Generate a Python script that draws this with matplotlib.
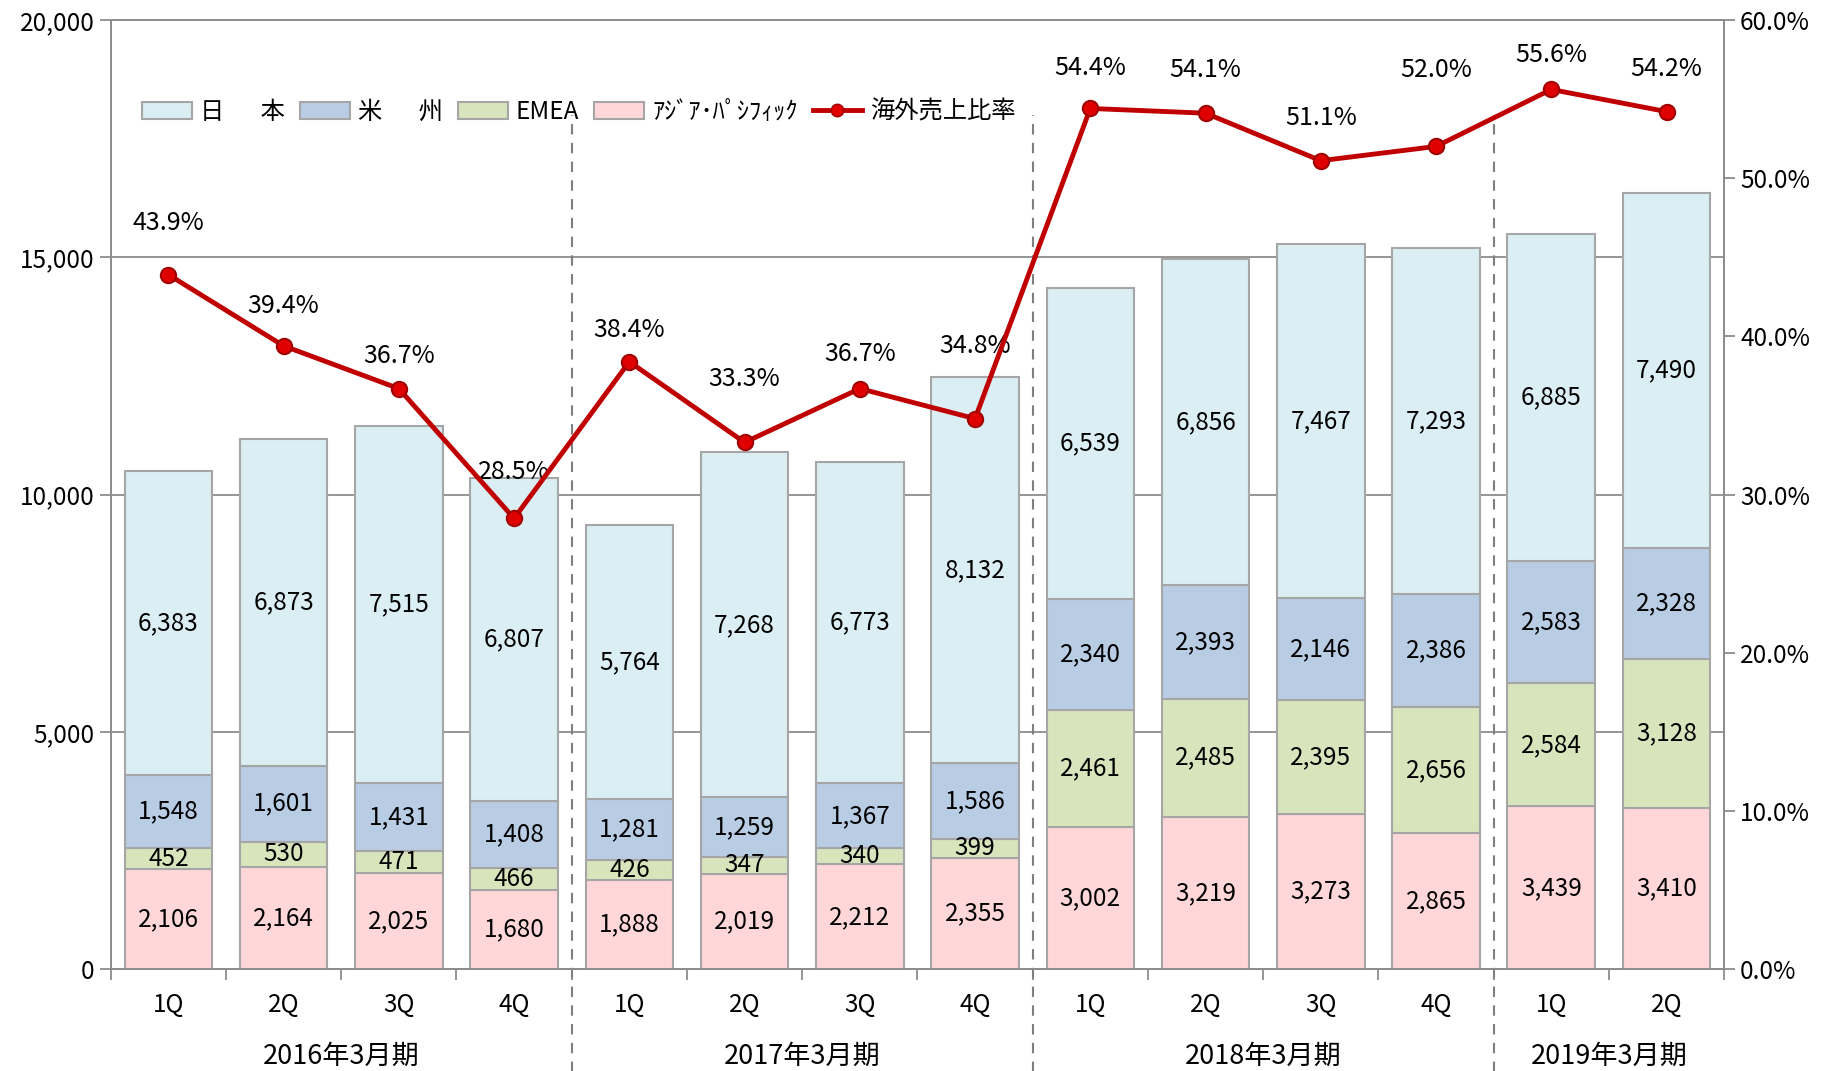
import matplotlib.pyplot as plt
import numpy as np
from matplotlib.patches import Patch
from matplotlib.lines import Line2D

plt.rcParams['font.family'] = ['Noto Sans CJK JP', 'DejaVu Sans']

quarters = ['1Q', '2Q', '3Q', '4Q', '1Q', '2Q', '3Q', '4Q', '1Q', '2Q', '3Q', '4Q', '1Q', '2Q']
periods = ['2016年3月期', '2017年3月期', '2018年3月期', '2019年3月期']
period_sizes = [4, 4, 4, 2]

asia = [2106, 2164, 2025, 1680, 1888, 2019, 2212, 2355, 3002, 3219, 3273, 2865, 3439, 3410]
emea = [452, 530, 471, 466, 426, 347, 340, 399, 2461, 2485, 2395, 2656, 2584, 3128]
americas = [1548, 1601, 1431, 1408, 1281, 1259, 1367, 1586, 2340, 2393, 2146, 2386, 2583, 2328]
japan = [6383, 6873, 7515, 6807, 5764, 7268, 6773, 8132, 6539, 6856, 7467, 7293, 6885, 7490]
overseas_ratio = [43.9, 39.4, 36.7, 28.5, 38.4, 33.3, 36.7, 34.8, 54.4, 54.1, 51.1, 52.0, 55.6, 54.2]

# label offsets above the markers (points), hand placed as in the source
label_offsets = [37, 28.5, 23.5, 33.5, 22.6, 46, 25, 52, 29, 31, 31, 55, 25, 31]

series = [
    ('ｱｼﾞｱ･ﾊﾟｼﾌｨｯｸ', asia, '#FFD7D9'),
    ('EMEA', emea, '#D7E4BC'),
    ('米\u3000\u2002州', americas, '#B8CCE4'),
    ('日\u3000\u2002本', japan, '#DAEEF3'),
]

fig = plt.figure(figsize=(18.27, 10.71), dpi=100)
ax = fig.add_axes([0.0606, 0.0948, 0.8831, 0.8867])
ax2 = ax.twinx()

fs = 17.5
x = np.arange(len(quarters))
bottom = np.zeros(len(quarters))
for name, vals, color in series:
    vals = np.array(vals)
    ax.bar(x, vals, width=0.76, bottom=bottom, color=color, edgecolor='#A6A6A6',
           linewidth=1.5, zorder=3)
    for xi, b, v in zip(x, bottom, vals):
        ax.text(xi, b + v / 2, f'{v:,}', ha='center', va='center', fontsize=fs, zorder=4)
    bottom += vals

ax.set_xlim(-0.5, len(quarters) - 0.5)
ax.set_ylim(0, 20000)
ax.set_yticks(range(0, 20001, 5000))
ax.set_yticklabels([f'{v:,}' for v in range(0, 20001, 5000)], fontsize=fs)
ax.yaxis.grid(True, color='#8C8C8C', linewidth=1.3, zorder=0)
ax.set_axisbelow(True)

ax.set_xticks(np.arange(-0.5, len(quarters), 1.0))
ax.set_xticklabels([])
ax.tick_params(axis='x', length=8, color='#8C8C8C', width=1.3)
ax.tick_params(axis='y', length=8, color='#8C8C8C', width=1.3)
for xi, q in zip(x, quarters):
    ax.text(xi, -0.037, q, transform=ax.get_xaxis_transform(), ha='center', va='center', fontsize=fs)
start = 0
for p, n in zip(periods, period_sizes):
    ax.text(start + (n - 1) / 2, -0.091, p, transform=ax.get_xaxis_transform(),
            ha='center', va='center', fontsize=19.5)
    start += n

# group separators
start = 0
for n in period_sizes[:-1]:
    start += n
    ax.plot([start - 0.5, start - 0.5], [-0.11, 0.9], transform=ax.get_xaxis_transform(),
            color='#7F7F7F', linestyle=(0, (5, 4)), linewidth=1.5, clip_on=False, zorder=5)

for s in list(ax.spines.values()) + list(ax2.spines.values()):
    s.set_color('#8C8C8C')
    s.set_linewidth(1.3)

ax2.plot(x, overseas_ratio, color='#C00000', linewidth=3.5, marker='o', markersize=11,
         markerfacecolor='#E00000', markeredgecolor='#A00000', markeredgewidth=1.5, zorder=6)
for xi, r, off in zip(x, overseas_ratio, label_offsets):
    ax2.annotate(f'{r:.1f}%', (xi, r), xytext=(0, off), textcoords='offset points',
                 ha='center', va='center', fontsize=18)
ax2.set_ylim(0, 60)
ax2.set_yticks(range(0, 61, 10))
ax2.set_yticklabels([f'{v:.1f}%' for v in range(0, 61, 10)], fontsize=fs)
ax2.tick_params(axis='y', length=8, color='#8C8C8C', width=1.3)

handles = [Patch(facecolor=c, edgecolor='#A6A6A6', linewidth=1.5) for _, _, c in series[::-1]]
labels = [n for n, _, _ in series[::-1]]
handles.append(Line2D([0], [0], color='#C00000', linewidth=3.5, marker='o', markersize=9,
                      markerfacecolor='#E00000', markeredgecolor='#A00000'))
labels.append('海外売上比率')
ax2.legend(handles, labels, loc='upper left', bbox_to_anchor=(0.006, 0.94), ncol=5, frameon=False,
           fontsize=fs, handlelength=2.05, handletextpad=0.33, columnspacing=0.62)

fig.savefig('out.png', dpi=100)
